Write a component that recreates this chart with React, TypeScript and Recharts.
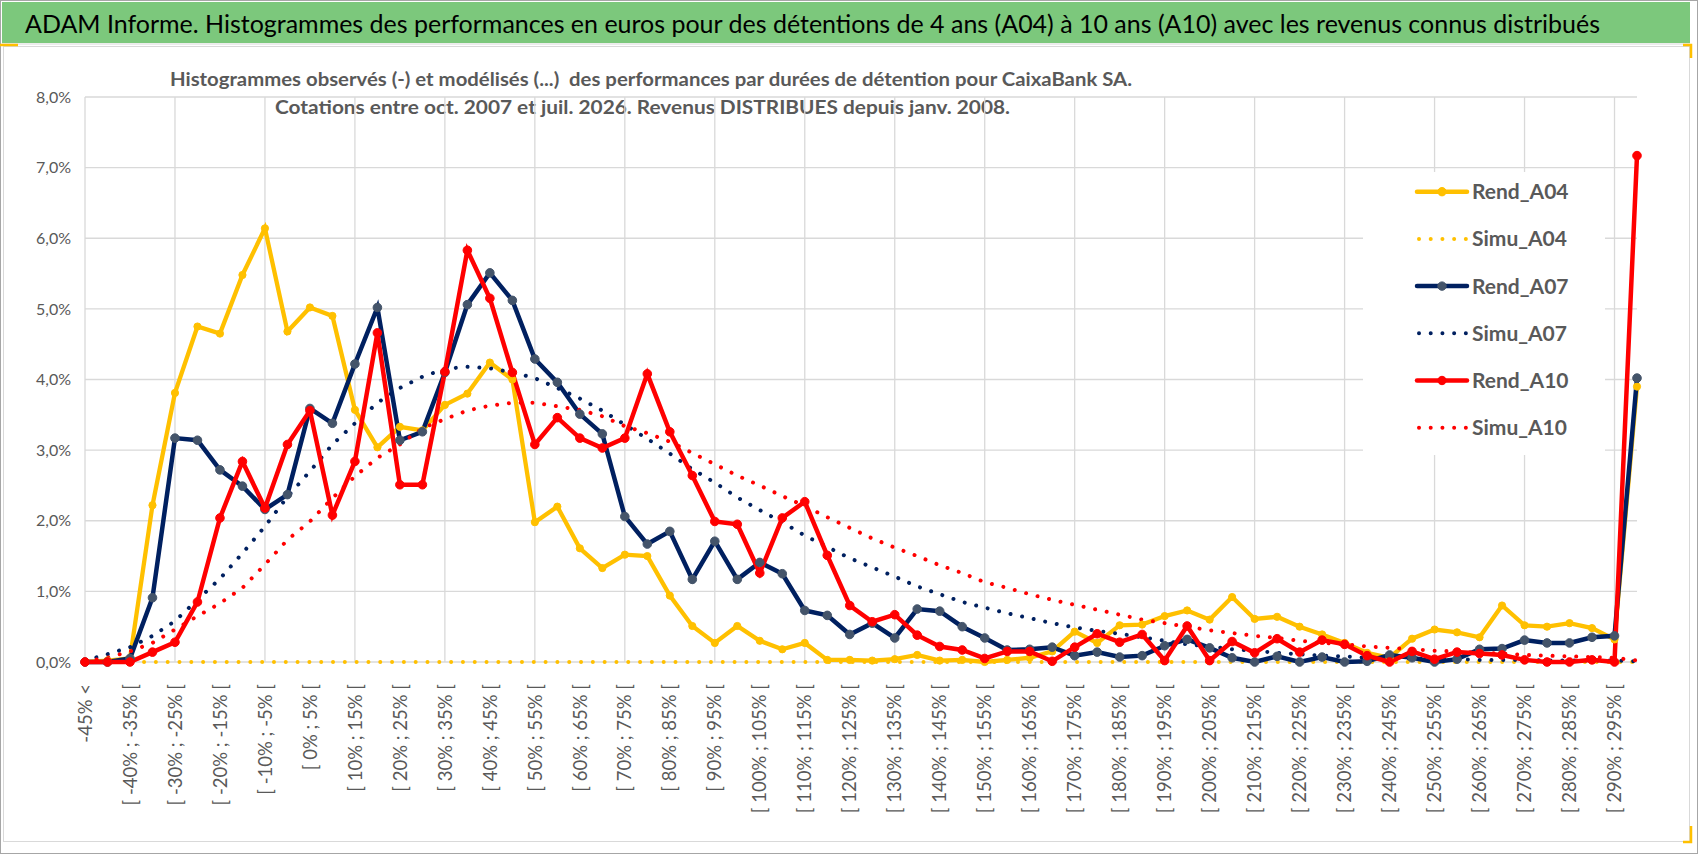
import React from 'react';
import { LineChart, Line, XAxis, YAxis, CartesianGrid, Legend } from 'recharts';

const categories = [
  '-45% <',
  '[ -45% ; -40% [', '[ -40% ; -35% [', '[ -35% ; -30% [', '[ -30% ; -25% [', '[ -25% ; -20% [',
  '[ -20% ; -15% [', '[ -15% ; -10% [', '[ -10% ; -5% [', '[ -5% ; 0% [', '[ 0% ; 5% [',
  '[ 5% ; 10% [', '[ 10% ; 15% [', '[ 15% ; 20% [', '[ 20% ; 25% [', '[ 25% ; 30% [',
  '[ 30% ; 35% [', '[ 35% ; 40% [', '[ 40% ; 45% [', '[ 45% ; 50% [', '[ 50% ; 55% [',
  '[ 55% ; 60% [', '[ 60% ; 65% [', '[ 65% ; 70% [', '[ 70% ; 75% [', '[ 75% ; 80% [',
  '[ 80% ; 85% [', '[ 85% ; 90% [', '[ 90% ; 95% [', '[ 95% ; 100% [', '[ 100% ; 105% [',
  '[ 105% ; 110% [', '[ 110% ; 115% [', '[ 115% ; 120% [', '[ 120% ; 125% [', '[ 125% ; 130% [',
  '[ 130% ; 135% [', '[ 135% ; 140% [', '[ 140% ; 145% [', '[ 145% ; 150% [', '[ 150% ; 155% [',
  '[ 155% ; 160% [', '[ 160% ; 165% [', '[ 165% ; 170% [', '[ 170% ; 175% [', '[ 175% ; 180% [',
  '[ 180% ; 185% [', '[ 185% ; 190% [', '[ 190% ; 195% [', '[ 195% ; 200% [', '[ 200% ; 205% [',
  '[ 205% ; 210% [', '[ 210% ; 215% [', '[ 215% ; 220% [', '[ 220% ; 225% [', '[ 225% ; 230% [',
  '[ 230% ; 235% [', '[ 235% ; 240% [', '[ 240% ; 245% [', '[ 245% ; 250% [', '[ 250% ; 255% [',
  '[ 255% ; 260% [', '[ 260% ; 265% [', '[ 265% ; 270% [', '[ 270% ; 275% [', '[ 275% ; 280% [',
  '[ 280% ; 285% [', '[ 285% ; 290% [', '[ 290% ; 295% [',
  '> 295%',
];

const rendA04 = [
  0.00, 0.02, 0.05, 2.22, 3.81, 4.75, 4.65, 5.48, 6.14, 4.68,
  5.02, 4.90, 3.57, 3.04, 3.33, 3.28, 3.64, 3.80, 4.24, 4.00,
  1.98, 2.20, 1.61, 1.33, 1.52, 1.50, 0.94, 0.51, 0.27, 0.51,
  0.30, 0.18, 0.27, 0.03, 0.03, 0.02, 0.04, 0.10, 0.02, 0.03,
  0.00, 0.03, 0.06, 0.15, 0.43, 0.27, 0.52, 0.53, 0.65, 0.73,
  0.60, 0.92, 0.61, 0.64, 0.50, 0.39, 0.27, 0.13, 0.06, 0.33,
  0.46, 0.42, 0.35, 0.80, 0.52, 0.50, 0.55, 0.48, 0.32, 3.90,
];

const simuA04 = [
  0, 0, 0, 0, 0, 0, 0, 0, 0, 0,
  0, 0, 0, 0, 0, 0, 0, 0, 0, 0,
  0, 0, 0, 0, 0, 0, 0, 0, 0, 0,
  0, 0, 0, 0, 0, 0, 0, 0, 0, 0,
  0, 0, 0, 0, 0, 0, 0, 0, 0, 0,
  0, 0, 0, 0, 0, 0, 0, 0, 0, 0,
  0, 0, 0, 0, 0, 0, 0, 0, 0, 0,
];

const rendA07 = [
  0.00, 0.00, 0.05, 0.91, 3.17, 3.14, 2.72, 2.49, 2.16, 2.37,
  3.59, 3.38, 4.22, 5.02, 3.14, 3.26, 4.10, 5.06, 5.51, 5.12,
  4.29, 3.96, 3.51, 3.23, 2.06, 1.67, 1.85, 1.17, 1.71, 1.17,
  1.41, 1.25, 0.73, 0.66, 0.39, 0.55, 0.34, 0.75, 0.72, 0.50,
  0.34, 0.17, 0.18, 0.21, 0.09, 0.14, 0.07, 0.09, 0.23, 0.32,
  0.20, 0.06, 0.00, 0.08, 0.00, 0.07, 0.00, 0.01, 0.10, 0.06,
  0.00, 0.04, 0.18, 0.19, 0.31, 0.27, 0.27, 0.35, 0.37, 4.02,
];

const simuA07 = [
  0.02, 0.11, 0.21, 0.37, 0.58, 0.88, 1.18, 1.54, 1.92, 2.34,
  2.70, 3.08, 3.38, 3.67, 3.88, 4.04, 4.15, 4.18, 4.16, 4.10,
  4.02, 3.88, 3.73, 3.56, 3.36, 3.16, 2.95, 2.73, 2.54, 2.33,
  2.15, 1.98, 1.79, 1.63, 1.47, 1.34, 1.21, 1.07, 0.96, 0.85,
  0.77, 0.69, 0.62, 0.55, 0.49, 0.44, 0.40, 0.35, 0.30, 0.25,
  0.22, 0.18, 0.16, 0.13, 0.11, 0.09, 0.08, 0.06, 0.05, 0.05,
  0.04, 0.04, 0.03, 0.03, 0.03, 0.02, 0.02, 0.02, 0.02, 0.01,
];

const rendA10 = [
  0.00, 0.00, 0.00, 0.14, 0.28, 0.85, 2.04, 2.84, 2.18, 3.08,
  3.56, 2.08, 2.84, 4.66, 2.51, 2.51, 4.11, 5.83, 5.15, 4.10,
  3.08, 3.46, 3.17, 3.03, 3.17, 4.08, 3.26, 2.64, 1.99, 1.95,
  1.26, 2.04, 2.27, 1.51, 0.80, 0.57, 0.67, 0.38, 0.22, 0.17,
  0.05, 0.15, 0.15, 0.01, 0.21, 0.40, 0.28, 0.39, 0.02, 0.51,
  0.02, 0.29, 0.13, 0.33, 0.14, 0.31, 0.25, 0.09, 0.00, 0.15,
  0.04, 0.14, 0.12, 0.10, 0.03, 0.00, 0.00, 0.03, 0.00, 7.17,
];

const simuA10 = [
  0.01, 0.06, 0.15, 0.27, 0.46, 0.65, 0.83, 1.05, 1.38, 1.73,
  1.99, 2.32, 2.63, 2.89, 3.08, 3.31, 3.44, 3.56, 3.63, 3.67,
  3.67, 3.62, 3.57, 3.48, 3.34, 3.24, 3.12, 2.96, 2.80, 2.64,
  2.50, 2.35, 2.21, 2.05, 1.90, 1.75, 1.62, 1.50, 1.37, 1.26,
  1.13, 1.05, 0.96, 0.88, 0.81, 0.74, 0.67, 0.60, 0.55, 0.50,
  0.45, 0.41, 0.37, 0.34, 0.30, 0.27, 0.25, 0.22, 0.20, 0.18,
  0.16, 0.15, 0.13, 0.12, 0.10, 0.09, 0.08, 0.07, 0.06, 0.02,
];

const yTicks = [0, 1, 2, 3, 4, 5, 6, 7, 8];

const seriesNames = ['Rend_A04', 'Simu_A04', 'Rend_A07', 'Simu_A07', 'Rend_A10', 'Simu_A10'];

const TITLE = 'ADAM Informe. Histogrammes des performances en euros pour des détentions de 4 ans (A04) à 10 ans (A10) avec les revenus connus distribués';
const SUB1 = 'Histogrammes observés (-) et modélisés (...)  des performances par durées de détention pour CaixaBank SA.';
const SUB2 = 'Cotations entre oct. 2007 et juil. 2026. Revenus DISTRIBUES depuis janv. 2008.';

const YELLOW = '#FFC000';
const NAVY = '#002060';
const NAVY_MARK = '#44546A';
const RED = '#FF0000';
const GRID = '#D9D9D9';
const TEXT = '#595959';
const GREEN = '#7CC87C';
const FONT = "Lato, 'Open Sans', 'Liberation Sans', sans-serif";

const data = categories.map((cat, i) => ({
  cat,
  Rend_A04: rendA04[i],
  Simu_A04: simuA04[i],
  Rend_A07: rendA07[i],
  Simu_A07: simuA07[i],
  Rend_A10: rendA10[i],
  Simu_A10: simuA10[i],
}));

const styleOf: Record<string, { color: string; marker: string; dotted: boolean }> = {
  Rend_A04: { color: YELLOW, marker: YELLOW, dotted: false },
  Simu_A04: { color: YELLOW, marker: YELLOW, dotted: true },
  Rend_A07: { color: NAVY, marker: NAVY_MARK, dotted: false },
  Simu_A07: { color: NAVY, marker: NAVY_MARK, dotted: true },
  Rend_A10: { color: RED, marker: RED, dotted: false },
  Simu_A10: { color: RED, marker: RED, dotted: true },
};

const fmtPct = (v: number) => v.toFixed(1).replace('.', ',') + '%';

const XTick = (props: any) => {
  const { x, y, payload } = props;
  return (
    <g transform={`translate(${x},${y})`}>
      <text
        transform="rotate(-90)"
        x={-20}
        y={0}
        dy="0.36em"
        textAnchor="end"
        fontSize={18.5}
        fill={TEXT}
        fontFamily={FONT}
      >
        {payload.value}
      </text>
    </g>
  );
};

const verticalGen = (args: any) => {
  const { xAxis, offset } = args || {};
  const pts: number[] = [];
  categories.forEach((c, i) => {
    if (i % 4 !== 0) return;
    let px: number | undefined;
    if (xAxis && typeof xAxis.scale === 'function') {
      const v = xAxis.scale(c);
      if (typeof v === 'number' && !isNaN(v)) px = v;
    }
    if (px === undefined && offset) {
      px = offset.left + (i * offset.width) / (categories.length - 1);
    }
    if (px !== undefined) pts.push(px);
  });
  return pts;
};

const LEG_W = 242;
const LEG_H = 283;

const renderLegend = () => (
  <div style={{ width: LEG_W, height: LEG_H, background: '#fff' }}>
    <svg width={LEG_W} height={LEG_H}>
      {seriesNames.map((name, i) => {
        const st = styleOf[name];
        const cy = 19.7 + i * 47.2;
        return (
          <g key={name}>
            {st.dotted ? (
              <line
                x1={56}
                x2={103}
                y1={cy}
                y2={cy}
                stroke={st.color}
                strokeWidth={4}
                strokeDasharray="0.01 11.7"
                strokeLinecap="round"
              />
            ) : (
              <g>
                <line x1={54} x2={104} y1={cy} y2={cy} stroke={st.color} strokeWidth={4.5} strokeLinecap="round" />
                <circle cx={79} cy={cy} r={4.2} fill={st.marker} stroke={st.marker} />
              </g>
            )}
            <text
              x={109}
              y={cy}
              dy="0.36em"
              fontSize={21}
              fontWeight="bold"
              fill={TEXT}
              fontFamily={FONT}
            >
              {name}
            </text>
          </g>
        );
      })}
    </svg>
  </div>
);

export default function App() {
  return (
    <div
      style={{
        position: 'absolute',
        left: 0,
        top: 0,
        width: 1698,
        height: 854,
        background: '#fff',
        overflow: 'hidden',
        fontFamily: FONT,
      }}
    >
      <svg width={1698} height={854} style={{ position: 'absolute', left: 0, top: 0 }}>
        <rect x={0.5} y={0.5} width={1697} height={853} fill="#fff" stroke="#A6A6A6" />
        <rect x={2} y={2} width={1688} height={41} fill={GREEN} />
        <line x1={2} x2={1690} y1={44} y2={44} stroke="#D9D9D9" />
        <rect x={3.5} y={46.5} width={1686} height={795} fill="none" stroke="#D9D9D9" />
        <line x1={0} x2={18} y1={45} y2={45} stroke={YELLOW} strokeWidth={2.5} />
        <polyline points="1683,45 1691,45 1691,58" fill="none" stroke={YELLOW} strokeWidth={2.5} />
        <polyline points="1691,826 1691,842 1683,842" fill="none" stroke={YELLOW} strokeWidth={2.5} />
        <text
          x={25}
          y={33}
          fontSize={25.5}
          fill="#000"
          fontFamily={FONT}
          textLength={1575}
          lengthAdjust="spacingAndGlyphs"
        >
          {TITLE}
        </text>
        <text
          x={170}
          y={86}
          fontSize={19.5}
          fontWeight="bold"
          fill={TEXT}
          fontFamily={FONT}
          textLength={962}
          lengthAdjust="spacingAndGlyphs"
          style={{ whiteSpace: 'pre' }}
        >
          {SUB1}
        </text>
        <text
          x={275}
          y={114}
          fontSize={19.5}
          fontWeight="bold"
          fill={TEXT}
          fontFamily={FONT}
          textLength={735}
          lengthAdjust="spacingAndGlyphs"
        >
          {SUB2}
        </text>
      </svg>
      <div style={{ position: 'absolute', left: 0, top: 0 }}>
        <LineChart
          width={1698}
          height={854}
          data={data}
          margin={{ top: 97, right: 61, bottom: 42, left: 0 }}
        >
          <CartesianGrid stroke={GRID} strokeWidth={1.3} verticalCoordinatesGenerator={verticalGen} />
          <XAxis
            dataKey="cat"
            scale="point"
            interval={1}
            tick={<XTick />}
            tickLine={false}
            axisLine={false}
            tickSize={0}
            height={150}
          />
          <YAxis
            domain={[0, 8]}
            ticks={yTicks}
            tickFormatter={fmtPct}
            width={85}
            tickSize={0}
            tickMargin={14}
            axisLine={false}
            tickLine={false}
            tick={{ fill: TEXT, fontSize: 16, fontFamily: FONT }}
          />
          <Legend
            layout="vertical"
            align="center"
            verticalAlign="middle"
            content={renderLegend}
            wrapperStyle={{ left: 1363, top: 172, width: LEG_W, height: LEG_H }}
          />
          <Line
            type="linear"
            dataKey="Rend_A04"
            stroke={YELLOW}
            strokeWidth={4.3}
            dot={{ r: 3.6, fill: YELLOW, stroke: YELLOW, strokeWidth: 1 }}
            activeDot={false}
            isAnimationActive={false}
          />
          <Line
            type="linear"
            dataKey="Simu_A04"
            stroke={YELLOW}
            strokeWidth={4}
            strokeDasharray="0.01 11.8"
            strokeLinecap="round"
            dot={false}
            activeDot={false}
            isAnimationActive={false}
          />
          <Line
            type="linear"
            dataKey="Rend_A07"
            stroke={NAVY}
            strokeWidth={4.5}
            dot={{ r: 4.3, fill: NAVY_MARK, stroke: NAVY_MARK, strokeWidth: 1 }}
            activeDot={false}
            isAnimationActive={false}
          />
          <Line
            type="linear"
            dataKey="Simu_A07"
            stroke={NAVY}
            strokeWidth={4}
            strokeDasharray="0.01 11.8"
            strokeLinecap="round"
            dot={false}
            activeDot={false}
            isAnimationActive={false}
          />
          <Line
            type="linear"
            dataKey="Rend_A10"
            stroke={RED}
            strokeWidth={4.5}
            dot={{ r: 4.3, fill: RED, stroke: RED, strokeWidth: 1 }}
            activeDot={false}
            isAnimationActive={false}
          />
          <Line
            type="linear"
            dataKey="Simu_A10"
            stroke={RED}
            strokeWidth={4}
            strokeDasharray="0.01 11.8"
            strokeLinecap="round"
            dot={false}
            activeDot={false}
            isAnimationActive={false}
          />
        </LineChart>
      </div>
    </div>
  );
}
